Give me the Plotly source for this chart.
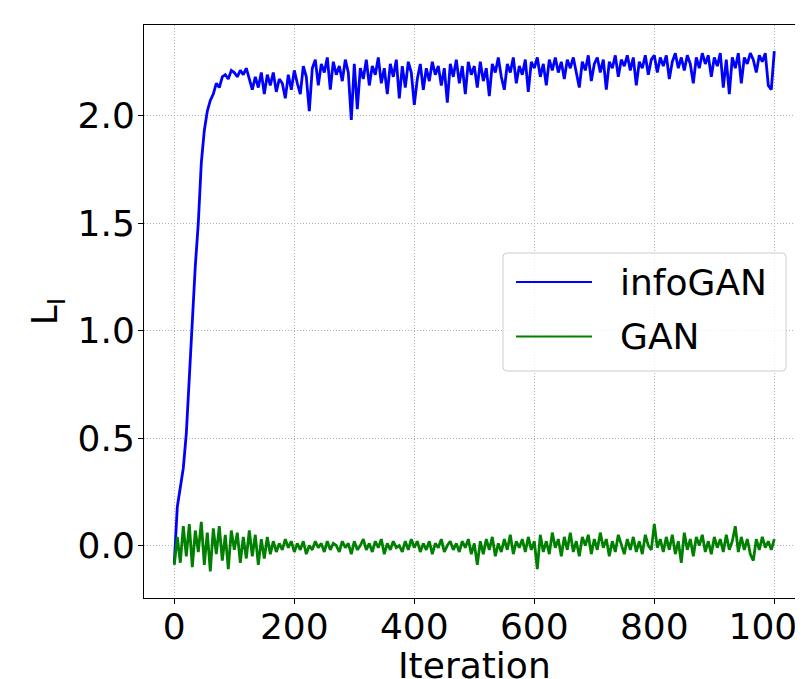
import plotly.graph_objects as go

step = 5
infogan = [
    -0.08, 0.18, 0.27, 0.36, 0.52, 0.80, 1.05, 1.30, 1.50, 1.78,
    1.93, 2.02, 2.07, 2.10, 2.15, 2.13, 2.18, 2.19, 2.17, 2.21,
    2.20, 2.18, 2.21, 2.19, 2.22, 2.17, 2.12, 2.18, 2.13, 2.20,
    2.10, 2.19, 2.14, 2.20, 2.11, 2.17, 2.15, 2.08, 2.19, 2.12,
    2.21, 2.15, 2.10, 2.23, 2.18, 2.02, 2.22, 2.26, 2.14, 2.24,
    2.20, 2.27, 2.12, 2.25, 2.19, 2.23, 2.16, 2.26, 2.20, 1.98,
    2.24, 2.03, 2.22, 2.17, 2.26, 2.14, 2.23, 2.19, 2.27, 2.15,
    2.22, 2.10, 2.24, 2.18, 2.26, 2.08, 2.23, 2.13, 2.25, 2.20,
    2.05, 2.17, 2.24, 2.12, 2.22, 2.16, 2.25, 2.19, 2.23, 2.14,
    2.22, 2.06, 2.24, 2.18, 2.26, 2.15, 2.23, 2.10, 2.25, 2.19,
    2.23, 2.13, 2.25, 2.16, 2.22, 2.09, 2.24, 2.20, 2.27, 2.18,
    2.12, 2.24, 2.20, 2.27, 2.15, 2.23, 2.19, 2.26, 2.11, 2.25,
    2.22, 2.27, 2.18, 2.24, 2.14, 2.26, 2.21, 2.27, 2.20, 2.25,
    2.17, 2.26, 2.22, 2.27, 2.19, 2.13, 2.25, 2.21, 2.28, 2.16,
    2.24, 2.27, 2.20, 2.26, 2.12, 2.25, 2.22, 2.28, 2.18, 2.26,
    2.23, 2.28, 2.21, 2.27, 2.14, 2.25, 2.22, 2.28, 2.19, 2.26,
    2.28, 2.20, 2.27, 2.23, 2.28, 2.17, 2.25, 2.29, 2.22, 2.27,
    2.21, 2.28, 2.24, 2.15, 2.27, 2.22, 2.29, 2.24, 2.28, 2.18,
    2.27, 2.23, 2.29, 2.13, 2.26, 2.10, 2.27, 2.22, 2.29, 2.15,
    2.27, 2.24, 2.29, 2.26, 2.20, 2.28, 2.25, 2.29, 2.14, 2.12,
    2.30,
]
gan = [
    -0.09, 0.04, -0.08, 0.09, -0.05, 0.10, -0.10, 0.07, -0.03, 0.11,
    -0.09, 0.06, -0.12, 0.08, -0.04, 0.09, -0.07, 0.05, -0.11, 0.07,
    -0.02, 0.06, -0.08, 0.04, -0.06, 0.07, -0.05, 0.05, -0.09, 0.03,
    -0.06, 0.04, -0.04, 0.02, -0.03, 0.01, -0.02, 0.03, -0.01, 0.02,
    -0.03, 0.01, -0.02, 0.02, -0.04, 0.00, -0.02, 0.02, -0.01, 0.01,
    -0.03, 0.02, -0.02, 0.01, 0.00, -0.03, 0.02, -0.01, 0.01, -0.04,
    0.02, -0.02, 0.00, 0.03, -0.02, 0.01, -0.03, 0.02, -0.01, 0.03,
    -0.04, 0.01, -0.02, 0.02, -0.01, 0.00, -0.03, 0.02, -0.02, 0.03,
    -0.01, 0.02, -0.03, 0.01, -0.02, 0.02, -0.04, 0.01, -0.01, 0.03,
    -0.03, 0.00, 0.02, -0.02, 0.01, -0.03, 0.02, -0.01, 0.03, -0.04,
    0.01, -0.09, 0.02, -0.04, 0.03, -0.02, 0.04, -0.05, 0.01, -0.03,
    0.03, -0.02, 0.05, -0.04, 0.02, -0.01, 0.03, -0.03, 0.04, -0.02,
    0.02, -0.11, 0.05, -0.03, 0.02, -0.04, 0.06, -0.01, 0.03, -0.05,
    0.04, -0.02, 0.06, -0.03, 0.02, -0.05, 0.04, 0.00, 0.05, -0.04,
    0.03, -0.02, 0.06, -0.01, 0.03, -0.05, 0.02, -0.03, 0.05, 0.00,
    -0.04, 0.03, -0.02, 0.04, -0.03, 0.02, -0.04, 0.05, 0.00, -0.02,
    0.10, -0.01, 0.03, -0.03, 0.04, -0.02, 0.05, -0.04, 0.02, -0.08,
    0.06, -0.02, 0.03, -0.05, 0.04, 0.00, 0.05, -0.03, 0.02, -0.04,
    0.04, -0.01, 0.03, -0.03, 0.05, -0.02, 0.02, 0.09, -0.03, 0.04,
    -0.02, 0.03, -0.04, -0.07, 0.03, -0.02, 0.04, -0.01, 0.02, -0.02,
    0.03,
]
x_ticks = [0, 200, 400, 600, 800, 1000]
y_ticks = [0.0, 0.5, 1.0, 1.5, 2.0]
series_names = ["infoGAN", "GAN"]
series_colors = ["#0000ff", "#008000"]
x_title = "Iteration"
y_title = "L<sub>I</sub>"

iters_a = [step * i for i in range(len(infogan))]
iters_b = [step * i for i in range(len(gan))]

FONT = "DejaVu Sans"
fig = go.Figure()
fig.add_trace(go.Scatter(x=iters_a, y=infogan, mode="lines", name=series_names[0],
                         line=dict(color=series_colors[0], width=2.8), showlegend=False))
fig.add_trace(go.Scatter(x=iters_b, y=gan, mode="lines", name=series_names[1],
                         line=dict(color=series_colors[1], width=2.8), showlegend=False))

# the page body adds an 8px offset; compensate so the plot area lands at
# x 144..803, y 25..598 in the 803x679 window
OFF = 8
W, H = 803 - OFF, 679 - OFF
L, R, T, B = 144 - OFF, 0, 25 - OFF, 81
pw = W - L - R
ph = H - T - B


def px(xp):
    return (xp - OFF - L) / pw


def py(yp):
    return (H - B - (yp - OFF)) / ph


# custom legend (matplotlib-like)
bx0, bx1, by0, by1 = px(503), px(786), py(371), py(253)
rx, ry = 4 / pw, 4 / ph
path = (f"M {bx0+rx},{by0} L {bx1-rx},{by0} Q {bx1},{by0} {bx1},{by0+ry} "
        f"L {bx1},{by1-ry} Q {bx1},{by1} {bx1-rx},{by1} L {bx0+rx},{by1} "
        f"Q {bx0},{by1} {bx0},{by1-ry} L {bx0},{by0+ry} Q {bx0},{by0} {bx0+rx},{by0} Z")
shapes = [dict(type="path", xref="paper", yref="paper", path=path,
               line=dict(color="#cccccc", width=1), fillcolor="rgba(255,255,255,0.8)",
               layer="above")]
annotations = []
row_y = [282, 336.5]
for name, col, yy in zip(series_names, series_colors, row_y):
    shapes.append(dict(type="line", xref="paper", yref="paper",
                       x0=px(516), x1=px(592), y0=py(yy), y1=py(yy),
                       line=dict(color=col, width=2), layer="above"))
    annotations.append(dict(text=name, xref="paper", yref="paper", x=px(618), y=py(yy),
                            xanchor="left", yanchor="middle", showarrow=False,
                            font=dict(family=FONT, size=36, color="black")))

# x-axis title placed like matplotlib's (partly cut by the figure's bottom edge)
annotations.append(dict(text=x_title, xref="paper", yref="paper", x=px(474.5), y=py(665),
                        xanchor="center", yanchor="middle", showarrow=False,
                        font=dict(family=FONT, size=36, color="black")))

fig.update_layout(
    width=W, height=H,
    margin=dict(l=L, r=R, t=T, b=B, pad=0, autoexpand=False),
    paper_bgcolor="white", plot_bgcolor="white",
    font=dict(family=FONT, size=36, color="black"),
    shapes=shapes, annotations=annotations,
    xaxis=dict(
        range=[-50.5, -50.5 + pw / 0.6],
        automargin=False, ticklabeloverflow="allow", ticklabelstandoff=-8,
        tickvals=x_ticks, ticktext=[str(v) for v in x_ticks],
        ticks="outside", ticklen=5, tickwidth=1, tickcolor="black",
        showline=True, linecolor="black", linewidth=1, mirror=True,
        showgrid=True, gridcolor="#b0b0b0", griddash="1px,2px", gridwidth=1,
        zeroline=False,
        tickfont=dict(family=FONT, size=36),
    ),
    yaxis=dict(
        range=[-0.244, 2.421],
        automargin=False, ticklabeloverflow="allow", ticklabelstandoff=-4,
        tickvals=y_ticks, ticktext=[f"{v:.1f}" for v in y_ticks],
        ticks="outside", ticklen=5, tickwidth=1, tickcolor="black",
        showline=True, linecolor="black", linewidth=1, mirror=False,
        showgrid=True, gridcolor="#b0b0b0", griddash="1px,2px", gridwidth=1,
        zeroline=False,
        tickfont=dict(family=FONT, size=36),
        title=dict(text=y_title, font=dict(family=FONT, size=36), standoff=8),
    ),
)

fig.write_html("out.html")
